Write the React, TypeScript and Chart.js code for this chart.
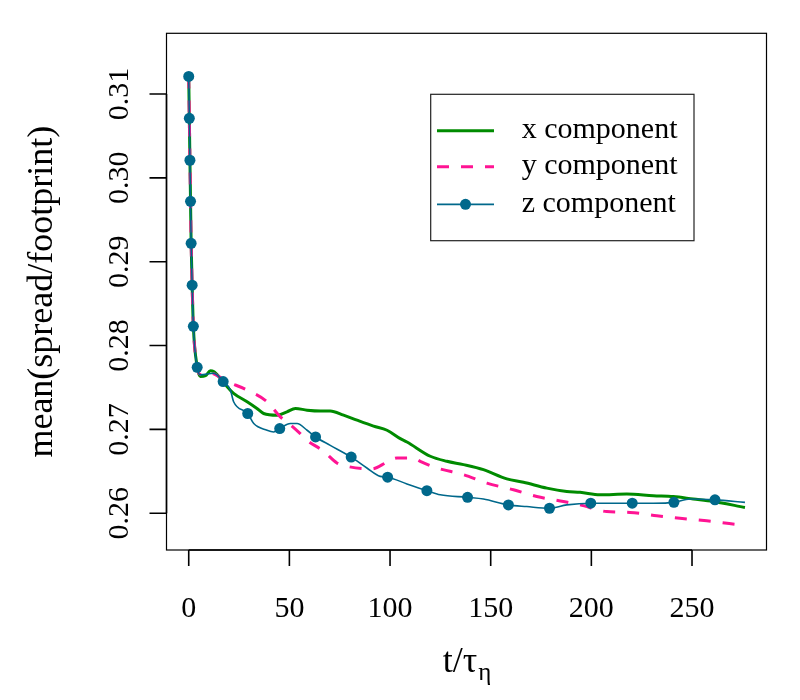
import React, { useEffect, useRef } from "react";
import { Chart, registerables } from "chart.js";

Chart.register(...registerables);

// ---- data ----
const xCompT = [0, 0.3, 0.6, 0.9, 1.2, 1.7, 2.3, 4.2, 5.8, 8.3, 10.8, 12.4, 15.7, 19.1, 22.3, 29.0, 33.9, 37.2, 43.9, 48.8, 53.0, 58.8, 65.4, 70.3, 76.9, 83.6, 91.8, 98.5, 105.1, 108.4, 120.0, 128.2, 136.5, 146.4, 158.0, 166.3, 177.9, 187.8, 194.4, 204.3, 217.6, 230.8, 240.7, 250.6, 260.5, 276.3];
const xCompV = [0.3121, 0.3071, 0.3021, 0.2972, 0.2922, 0.2872, 0.2823, 0.2775, 0.2763, 0.2764, 0.2770, 0.2769, 0.2761, 0.2751, 0.2743, 0.2733, 0.2725, 0.2719, 0.2717, 0.2721, 0.2725, 0.2723, 0.2722, 0.2722, 0.2717, 0.2711, 0.2704, 0.2699, 0.2689, 0.2685, 0.2668, 0.2662, 0.2658, 0.2652, 0.2641, 0.2637, 0.2630, 0.2626, 0.2625, 0.2622, 0.2623, 0.2621, 0.2620, 0.2617, 0.2614, 0.2607];

const yCompT = [0, 0.3, 0.6, 0.9, 1.2, 1.7, 2.3, 4.2, 5.0, 7.4, 10.8, 19.1, 29.0, 38.9, 45.5, 48.8, 55.4, 58.8, 67.0, 73.6, 78.6, 91.0, 98.5, 103.4, 111.7, 115.0, 123.3, 136.5, 148.1, 161.3, 172.9, 186.1, 194.4, 207.6, 219.2, 232.5, 244.0, 257.3, 271.3, 276.3];
const yCompV = [0.3121, 0.3071, 0.3021, 0.2972, 0.2922, 0.2872, 0.2823, 0.2775, 0.2767, 0.2765, 0.2767, 0.2757, 0.2747, 0.2733, 0.2715, 0.2709, 0.2695, 0.2687, 0.2674, 0.2660, 0.2656, 0.2653, 0.2661, 0.2666, 0.2666, 0.2662, 0.2654, 0.2646, 0.2636, 0.2628, 0.2620, 0.2614, 0.2610, 0.2602, 0.2601, 0.2597, 0.2594, 0.2591, 0.2587, 0.2586];

const zCompT = [0, 0.3, 0.6, 0.9, 1.2, 1.7, 2.3, 4.2, 5.8, 12.4, 14.1, 17.1, 20.7, 22.3, 29.3, 32.3, 38.9, 42.2, 45.2, 50.5, 53.8, 58.8, 63.0, 70.3, 80.7, 88.5, 95.1, 98.8, 108.4, 118.3, 124.9, 138.5, 146.4, 158.8, 167.9, 179.2, 187.8, 199.7, 209.3, 220.3, 230.8, 241.0, 249.0, 261.4, 276.3];
const zCompV = [0.3121, 0.3071, 0.3021, 0.2972, 0.2922, 0.2872, 0.2823, 0.2774, 0.2765, 0.2767, 0.2765, 0.2757, 0.2747, 0.2733, 0.2719, 0.2707, 0.2699, 0.2697, 0.2701, 0.2707, 0.2707, 0.2699, 0.2691, 0.2681, 0.2667, 0.2654, 0.2644, 0.2643, 0.2635, 0.2627, 0.2622, 0.2619, 0.2617, 0.2610, 0.2608, 0.2606, 0.2610, 0.2612, 0.2612, 0.2612, 0.2612, 0.2613, 0.2617, 0.2616, 0.2613];
const zCompMarker = [1, 1, 1, 1, 1, 1, 1, 1, 0, 0, 0, 1, 0, 0, 1, 0, 0, 0, 1, 0, 0, 0, 1, 0, 1, 0, 0, 1, 0, 1, 0, 1, 0, 1, 0, 1, 0, 1, 0, 1, 0, 1, 0, 1, 0];

const seriesNames = ["x component", "y component", "z component"];
const xTickValues = [0, 50, 100, 150, 200, 250];
const xTickLabels = ["0", "50", "100", "150", "200", "250"];
const yTickValues = [0.26, 0.27, 0.28, 0.29, 0.3, 0.31];
const yTickLabels = ["0.26", "0.27", "0.28", "0.29", "0.30", "0.31"];
const xAxisTitle = "t/τ";
const xAxisTitleSub = "η";
const yAxisTitle = "mean(spread/footprint)";

const GREEN = "#008B00";
const PINK = "#FF1493";
const BLUE = "#00688B";
const SERIF = '"Liberation Serif", "DejaVu Serif", serif';

const toPts = (t: number[], v: number[]) => t.map((tt, i) => ({ x: tt, y: v[i] }));

const rPlot = {
  id: "rPlot",
  afterDraw(chart: any) {
    const { ctx, chartArea: a, scales } = chart;
    const xs = scales.x;
    const ys = scales.y;
    ctx.save();
    ctx.strokeStyle = "#000";
    ctx.fillStyle = "#000";
    // box
    ctx.lineWidth = 1.2;
    ctx.strokeRect(a.left, a.top, a.right - a.left, a.bottom - a.top);

    // x axis
    ctx.lineWidth = 1.6;
    ctx.beginPath();
    ctx.moveTo(xs.getPixelForValue(xTickValues[0]), a.bottom);
    ctx.lineTo(xs.getPixelForValue(xTickValues[xTickValues.length - 1]), a.bottom);
    xTickValues.forEach((v) => {
      const px = xs.getPixelForValue(v);
      ctx.moveTo(px, a.bottom);
      ctx.lineTo(px, a.bottom + 16);
    });
    ctx.stroke();
    ctx.font = `30px ${SERIF}`;
    ctx.textAlign = "center";
    ctx.textBaseline = "alphabetic";
    xTickValues.forEach((v, i) => {
      ctx.fillText(xTickLabels[i], xs.getPixelForValue(v), 617);
    });

    // y axis
    ctx.beginPath();
    ctx.moveTo(a.left, ys.getPixelForValue(yTickValues[0]));
    ctx.lineTo(a.left, ys.getPixelForValue(yTickValues[yTickValues.length - 1]));
    yTickValues.forEach((v) => {
      const py = ys.getPixelForValue(v);
      ctx.moveTo(a.left, py);
      ctx.lineTo(a.left - 17, py);
    });
    ctx.stroke();
    yTickValues.forEach((v, i) => {
      ctx.save();
      ctx.translate(128, ys.getPixelForValue(v));
      ctx.rotate(-Math.PI / 2);
      ctx.fillText(yTickLabels[i], 0, 0);
      ctx.restore();
    });

    // y title
    ctx.save();
    ctx.font = `36px ${SERIF}`;
    ctx.translate(52, (a.top + a.bottom) / 2);
    ctx.rotate(-Math.PI / 2);
    ctx.fillText(yAxisTitle, 0, 0);
    ctx.restore();

    // x title with subscript
    ctx.font = `36px ${SERIF}`;
    const w1 = ctx.measureText(xAxisTitle).width;
    ctx.font = `25px ${SERIF}`;
    const w2 = ctx.measureText(xAxisTitleSub).width;
    const cx = (a.left + a.right) / 2;
    const start = cx - (w1 + w2) / 2;
    ctx.textAlign = "left";
    ctx.font = `36px ${SERIF}`;
    ctx.fillText(xAxisTitle, start, 672);
    ctx.font = `25px ${SERIF}`;
    ctx.fillText(xAxisTitleSub, start + w1 + 1, 680);

    // legend
    const lx0 = 430.7, ly0 = 94.3, lx1 = 694, ly1 = 240.7;
    ctx.fillStyle = "#fff";
    ctx.fillRect(lx0, ly0, lx1 - lx0, ly1 - ly0);
    ctx.strokeStyle = "#222";
    ctx.lineWidth = 1.2;
    ctx.strokeRect(lx0, ly0, lx1 - lx0, ly1 - ly0);
    const rows = [130.7, 166.7, 204.3];
    const colors = [GREEN, PINK, BLUE];
    const widths = [3, 3, 1.8];
    const dashes = [[], [12, 12], []];
    rows.forEach((ry, i) => {
      ctx.beginPath();
      ctx.strokeStyle = colors[i];
      ctx.lineWidth = widths[i];
      ctx.setLineDash(dashes[i]);
      ctx.moveTo(437, ry);
      ctx.lineTo(494, ry);
      ctx.stroke();
      ctx.setLineDash([]);
      if (i === 2) {
        ctx.beginPath();
        ctx.fillStyle = BLUE;
        ctx.arc(465.5, ry, 5.5, 0, Math.PI * 2);
        ctx.fill();
      }
      ctx.fillStyle = "#000";
      ctx.font = `30px ${SERIF}`;
      ctx.textAlign = "left";
      ctx.fillText(seriesNames[i], 521.7, ry + 7.5);
    });
    ctx.restore();
  },
};

export default function App() {
  const ref = useRef<HTMLCanvasElement | null>(null);
  useEffect(() => {
    if (!ref.current) return;
    const chart = new Chart(ref.current, {
      type: "line",
      data: {
        datasets: [
          {
            label: seriesNames[0],
            data: toPts(xCompT, xCompV),
            borderColor: GREEN,
            borderWidth: 3,
            pointRadius: 0,
            cubicInterpolationMode: "monotone",
            order: 3,
          },
          {
            label: seriesNames[1],
            data: toPts(yCompT, yCompV),
            borderColor: PINK,
            borderWidth: 3,
            borderDash: [12, 12],
            pointRadius: 0,
            cubicInterpolationMode: "monotone",
            order: 2,
          },
          {
            label: seriesNames[2],
            data: toPts(zCompT, zCompV),
            borderColor: BLUE,
            backgroundColor: BLUE,
            borderWidth: 1.6,
            pointRadius: zCompMarker.map((m) => (m ? 5.5 : 0)),
            pointBorderWidth: 0,
            pointBackgroundColor: BLUE,
            cubicInterpolationMode: "monotone",
            order: 1,
          },
        ],
      },
      options: {
        animation: false,
        responsive: false,
        events: [],
        layout: { padding: { left: 166.5, right: 33.5, top: 33.3, bottom: 150 } },
        plugins: { legend: { display: false }, tooltip: { enabled: false } },
        scales: {
          x: { type: "linear", display: false, min: -11.04, max: 287.0 },
          y: { type: "linear", display: false, min: 0.25562, max: 0.31724 },
        },
      },
      plugins: [rPlot],
    } as any);
    return () => chart.destroy();
  }, []);
  return (
    <div style={{ position: "fixed", left: 0, top: 0, width: 800, height: 700, background: "#fff" }}>
      <canvas ref={ref} width={800} height={700} />
    </div>
  );
}
